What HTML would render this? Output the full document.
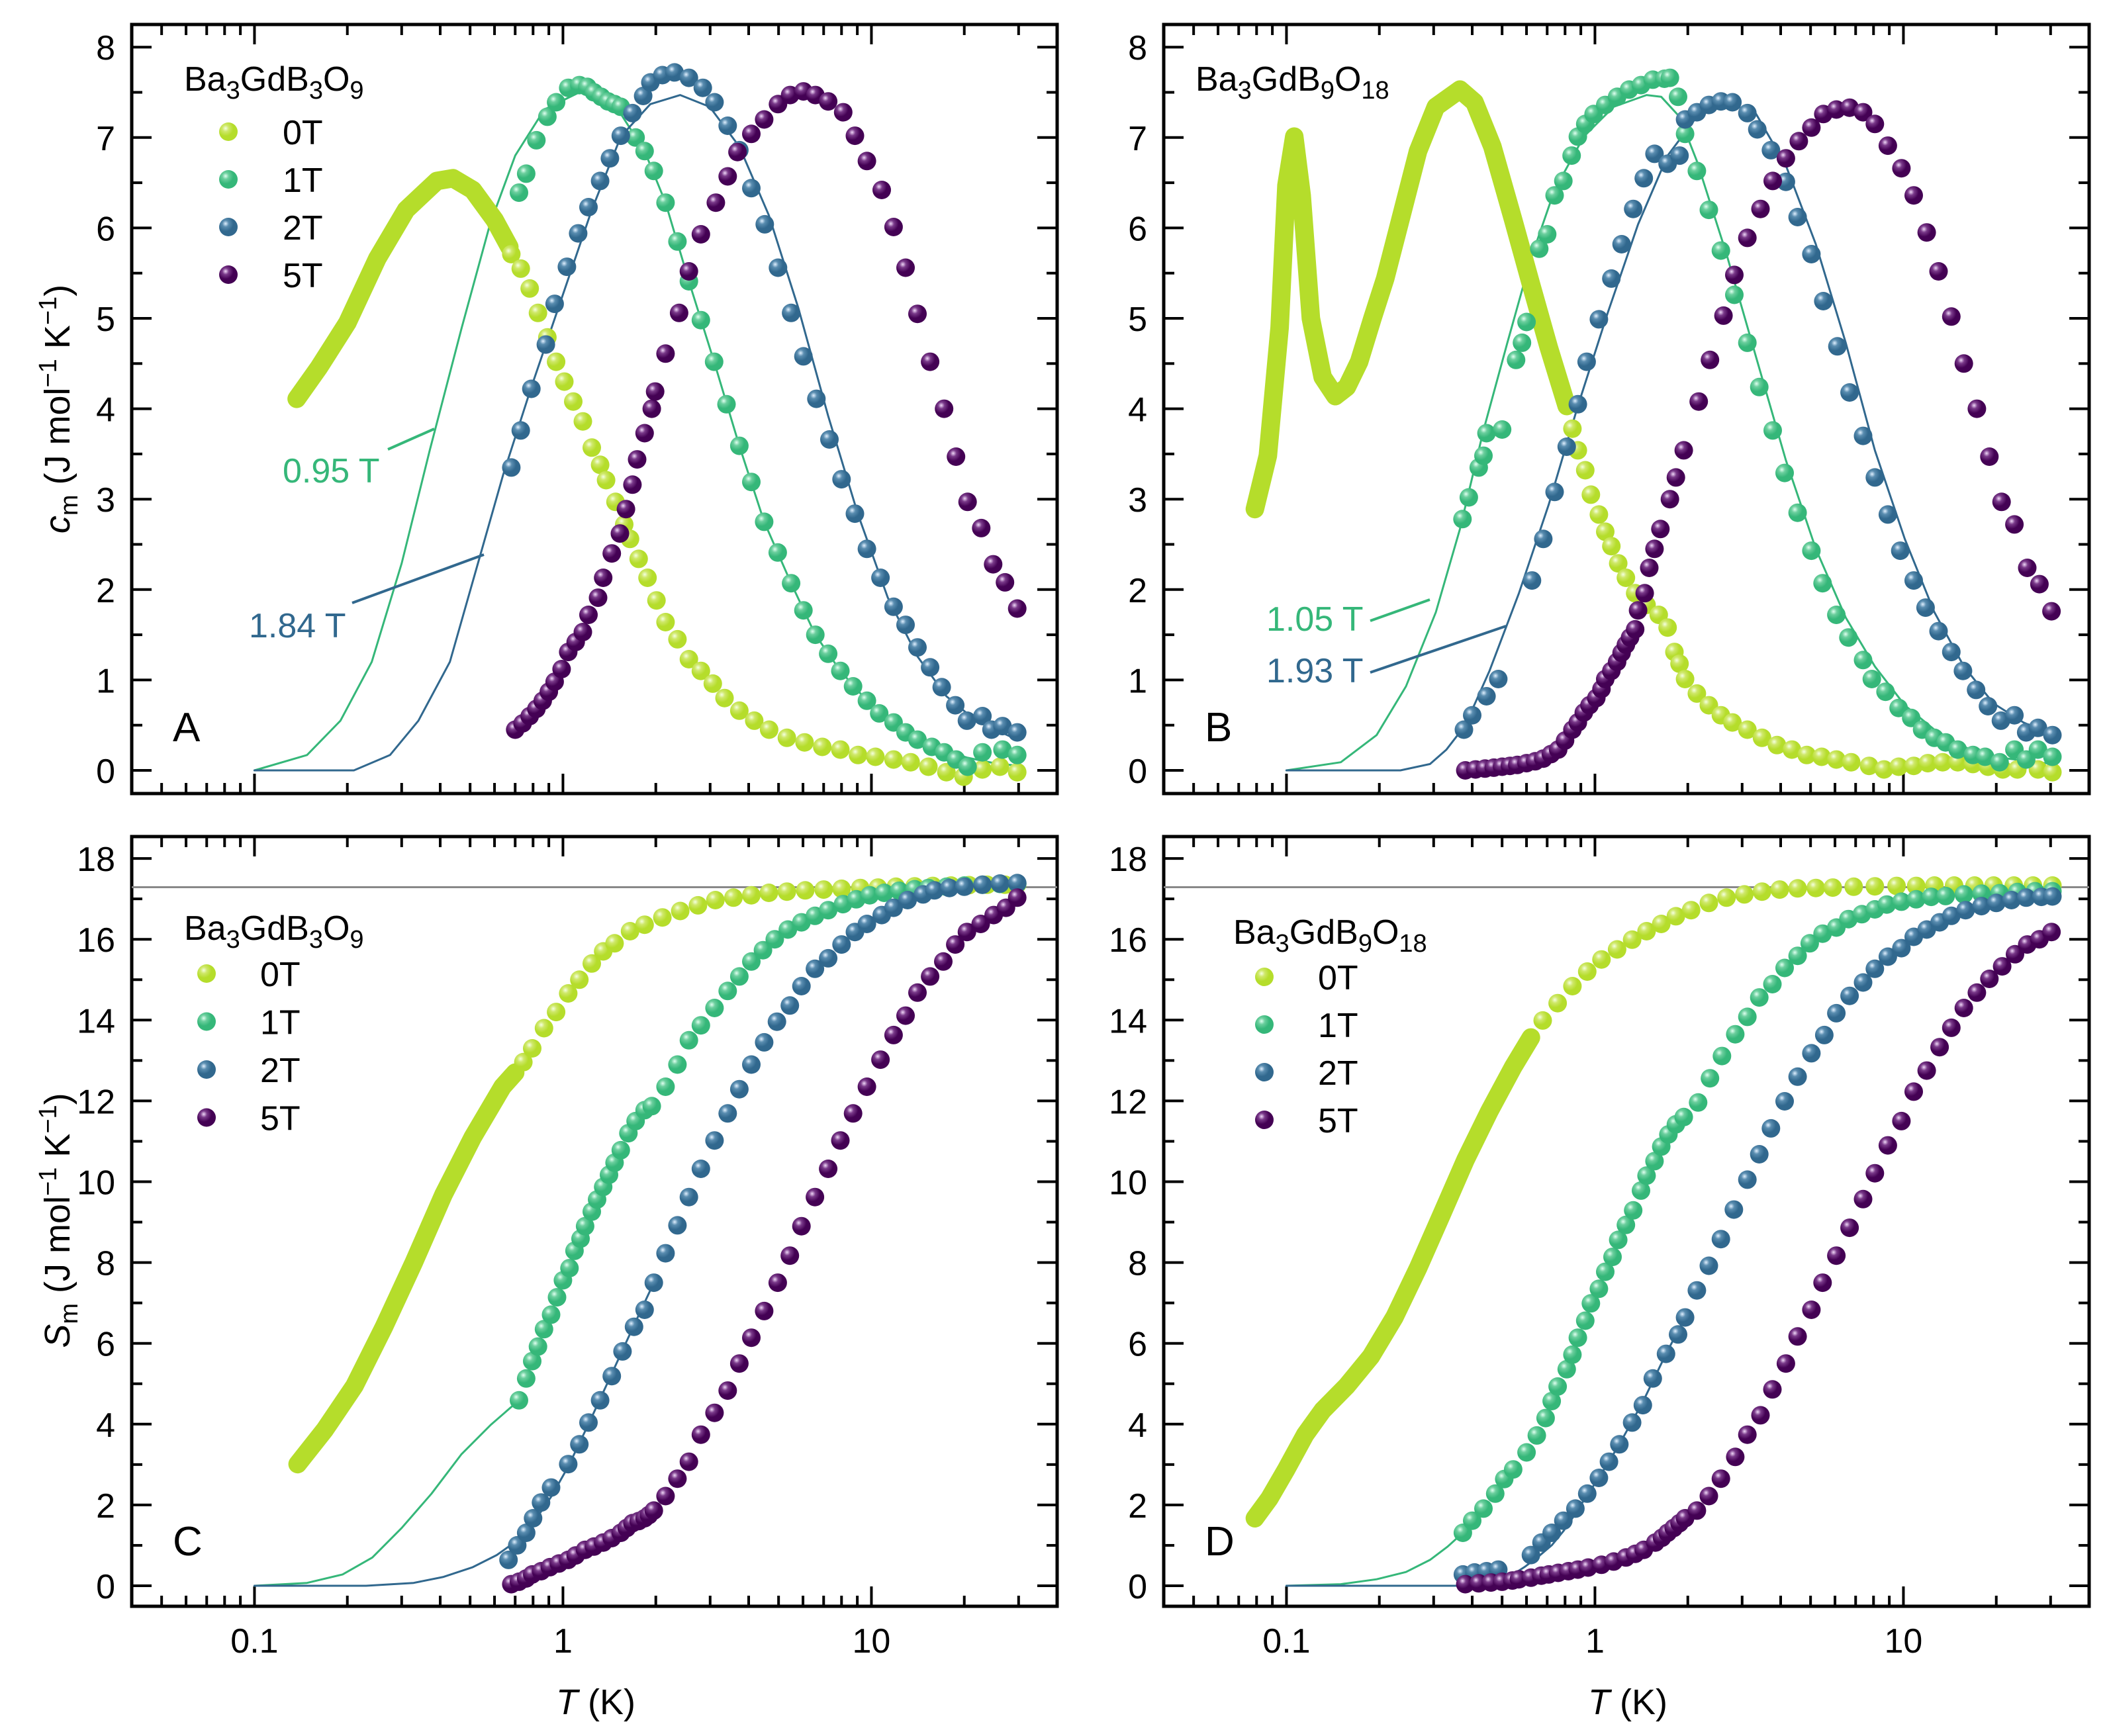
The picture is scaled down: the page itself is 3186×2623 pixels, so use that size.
<!DOCTYPE html>
<html><head><meta charset="utf-8"><style>
html,body{margin:0;padding:0;background:#fff;}
svg{display:block;font-family:"Liberation Sans",Arial,sans-serif;}
</style></head><body>
<svg id="fig" width="3186" height="2623" viewBox="0 0 3186 2623" xmlns="http://www.w3.org/2000/svg">
<defs>
<radialGradient id="g0" cx="0.35" cy="0.32" r="0.7"><stop offset="0" stop-color="#f4ffe0"/><stop offset="0.25" stop-color="#cfe86a"/><stop offset="0.6" stop-color="#b5dd2b"/></radialGradient>
<radialGradient id="g1" cx="0.35" cy="0.32" r="0.7"><stop offset="0" stop-color="#e0fff0"/><stop offset="0.25" stop-color="#6ccf9e"/><stop offset="0.6" stop-color="#35b779"/></radialGradient>
<radialGradient id="g2" cx="0.35" cy="0.32" r="0.7"><stop offset="0" stop-color="#e0f0ff"/><stop offset="0.25" stop-color="#5a8db0"/><stop offset="0.6" stop-color="#31688e"/></radialGradient>
<radialGradient id="g5" cx="0.35" cy="0.32" r="0.7"><stop offset="0" stop-color="#f0d8f8"/><stop offset="0.25" stop-color="#7a3a8a"/><stop offset="0.6" stop-color="#440154"/></radialGradient>
</defs>
</svg>
<script>
// ---- Panel A (c_m, Ba3GdB3O9) ----
const A0dT=[0.137,0.162,0.2,0.25,0.31,0.39,0.44,0.51,0.6,0.67];
const A0dV=[4.11,4.46,4.95,5.66,6.2,6.52,6.55,6.42,6.09,5.79];
const A0T=[0.68,0.73,0.78,0.83,0.89,0.95,1.01,1.08,1.16,1.24,1.32,1.38,1.48,1.58,1.65,1.76,1.88,2.01,2.15,2.35,2.56,2.8,3.06,3.34,3.73,4.17,4.66,5.32,6.07,6.93,7.93,9.05,10.3,11.8,13.4,15.3,17.5,19.9,22.9,26.1,29.7];
const A0V=[5.71,5.55,5.33,5.06,4.79,4.52,4.3,4.08,3.86,3.57,3.38,3.21,2.97,2.72,2.56,2.34,2.13,1.88,1.64,1.45,1.23,1.1,0.96,0.8,0.66,0.55,0.45,0.36,0.31,0.26,0.23,0.17,0.15,0.12,0.09,0.04,-0.02,-0.07,0.01,0.04,-0.02];
const A1T=[0.72,0.76,0.82,0.89,0.95,1.04,1.13,1.2,1.26,1.33,1.4,1.47,1.54,1.72,1.84,1.97,2.15,2.35,2.56,2.8,3.09,3.39,3.73,4.08,4.49,4.97,5.49,6.02,6.58,7.24,7.93,8.72,9.67,10.6,11.8,12.9,14.1,15.7,17.2,18.8,20.5,22.9,26.6,29.7];
const A1V=[6.39,6.6,6.97,7.23,7.39,7.55,7.58,7.56,7.5,7.45,7.4,7.37,7.34,7.0,6.85,6.63,6.28,5.85,5.41,4.98,4.52,4.05,3.59,3.19,2.75,2.41,2.07,1.77,1.5,1.29,1.1,0.93,0.77,0.63,0.53,0.42,0.34,0.26,0.2,0.12,0.04,0.2,0.23,0.17];
const A1fT=[0.1,0.148,0.19,0.24,0.3,0.37,0.47,0.58,0.7,0.87,1.13,1.47,1.84,2.15,2.56,3.09,3.73,4.49,5.49,6.58,7.93,9.67,11.8,14.1,17.2,20.5,25,30];
const A1fV=[0,0.17,0.55,1.2,2.29,3.54,4.9,6.04,6.8,7.31,7.5,7.37,6.85,6.28,5.41,4.52,3.59,2.75,2.07,1.5,1.1,0.77,0.53,0.36,0.22,0.14,0.08,0.05];
const A2T=[0.68,0.73,0.79,0.88,0.94,1.03,1.12,1.21,1.32,1.42,1.54,1.68,1.82,1.92,2.1,2.3,2.56,2.84,3.1,3.42,3.73,4.08,4.51,4.98,5.49,6.02,6.63,7.31,8.0,8.84,9.67,10.7,11.8,12.9,14.1,15.5,16.9,18.7,20.4,22.9,24.5,26.6,29.7];
const A2V=[3.35,3.76,4.22,4.71,5.16,5.57,5.94,6.23,6.52,6.77,7.02,7.27,7.46,7.61,7.69,7.72,7.66,7.55,7.39,7.13,6.86,6.44,6.04,5.56,5.06,4.58,4.11,3.66,3.22,2.84,2.45,2.13,1.81,1.61,1.36,1.14,0.92,0.72,0.55,0.6,0.45,0.49,0.42];
const A2fT=[0.1,0.21,0.275,0.34,0.43,0.53,0.64,0.79,0.99,1.24,1.54,1.92,2.4,2.99,3.73,4.65,5.8,7.24,9.05,11.3,14.1,17.5,21.8,29.7];
const A2fV=[0,0,0.17,0.55,1.2,2.29,3.27,4.24,5.22,6.2,7.01,7.37,7.47,7.34,6.9,6.14,5.11,3.92,2.83,1.91,1.26,0.82,0.55,0.34];
const A5T=[0.7,0.74,0.78,0.82,0.86,0.9,0.94,0.99,1.04,1.1,1.16,1.21,1.3,1.35,1.44,1.53,1.6,1.68,1.74,1.84,1.94,1.99,2.15,2.38,2.56,2.8,3.13,3.42,3.68,4.08,4.49,4.98,5.45,6.02,6.58,7.24,8.1,8.84,9.67,10.8,11.8,12.9,14.1,15.5,17.2,18.8,20.5,22.7,24.8,27.1,29.7];
const A5V=[0.45,0.52,0.6,0.68,0.77,0.87,0.98,1.12,1.31,1.42,1.53,1.72,1.91,2.13,2.4,2.62,2.89,3.16,3.44,3.73,4.0,4.19,4.61,5.06,5.52,5.93,6.28,6.57,6.84,7.04,7.2,7.37,7.47,7.51,7.47,7.4,7.28,7.02,6.74,6.42,6.01,5.56,5.05,4.52,4.0,3.47,2.97,2.68,2.28,2.08,1.79];
// ---- Panel B (c_m, Ba3GdB9O18) ----
const B0dT=[0.079,0.087,0.095,0.1,0.106,0.112,0.12,0.131,0.144,0.157,0.172,0.19,0.209,0.234,0.267,0.305,0.365,0.407,0.465,0.543,0.62,0.708,0.81];
const B0dV=[2.89,3.48,4.9,6.47,7.01,6.36,5.0,4.35,4.14,4.24,4.52,5.0,5.44,6.09,6.85,7.34,7.53,7.39,6.9,6.09,5.38,4.68,4.03];
const B0T=[0.845,0.88,0.93,0.97,1.03,1.08,1.13,1.19,1.26,1.35,1.47,1.61,1.72,1.81,1.88,1.96,2.14,2.34,2.56,2.79,3.12,3.48,3.89,4.35,4.86,5.43,6.06,6.77,7.74,8.65,9.65,10.8,12.0,13.4,15.0,16.8,18.8,21.0,23.4,27.3,30.4];
const B0V=[3.78,3.54,3.32,3.05,2.83,2.64,2.48,2.29,2.13,1.96,1.83,1.72,1.58,1.31,1.18,1.01,0.85,0.72,0.61,0.53,0.45,0.36,0.28,0.23,0.17,0.15,0.12,0.09,0.05,0.01,0.04,0.05,0.08,0.09,0.09,0.07,0.04,0.01,0.01,0.01,-0.02];
const B1T=[0.372,0.39,0.42,0.435,0.445,0.5,0.555,0.58,0.6,0.66,0.7,0.74,0.79,0.84,0.88,0.93,0.99,1.08,1.18,1.29,1.41,1.54,1.68,1.75,1.86,1.96,2.14,2.34,2.56,2.83,3.12,3.41,3.77,4.12,4.54,5.03,5.47,6.06,6.63,7.4,7.9,8.75,9.65,10.6,11.5,12.6,13.7,15.0,16.8,18.4,20.5,22.9,25.0,27.3,30.4];
const B1V=[2.78,3.02,3.35,3.48,3.73,3.77,4.54,4.73,4.96,5.77,5.93,6.36,6.52,6.8,7.01,7.15,7.26,7.36,7.45,7.53,7.58,7.64,7.65,7.66,7.45,7.04,6.63,6.2,5.75,5.26,4.73,4.24,3.76,3.29,2.85,2.43,2.07,1.72,1.47,1.22,1.01,0.87,0.69,0.58,0.45,0.36,0.31,0.23,0.17,0.15,0.09,0.23,0.12,0.23,0.15];
const B1fT=[0.1,0.15,0.196,0.244,0.305,0.365,0.435,0.52,0.62,0.74,0.92,1.15,1.47,1.64,1.88,2.14,2.67,3.33,4.16,5.2,6.5,8.08,10.1,12.6,15.7,19.6,30.4];
const B1fV=[0,0.09,0.39,0.93,1.75,2.67,3.76,4.73,5.66,6.42,7.01,7.34,7.47,7.45,7.23,6.74,5.71,4.57,3.43,2.45,1.69,1.15,0.72,0.45,0.26,0.15,0.07];
const B2T=[0.376,0.4,0.445,0.486,0.625,0.68,0.74,0.81,0.88,0.94,1.03,1.13,1.22,1.33,1.44,1.56,1.72,1.88,1.96,2.14,2.34,2.56,2.79,3.12,3.36,3.72,4.16,4.54,5.03,5.5,6.11,6.69,7.4,8.08,8.9,9.77,10.8,11.8,13.0,14.3,15.6,17.2,18.8,20.7,22.9,25.0,27.3,30.4];
const B2V=[0.45,0.61,0.82,1.01,2.1,2.56,3.08,3.58,4.05,4.52,4.99,5.44,5.82,6.21,6.55,6.82,6.71,6.8,7.2,7.28,7.36,7.4,7.39,7.27,7.09,6.86,6.51,6.12,5.71,5.19,4.69,4.18,3.7,3.24,2.83,2.43,2.1,1.8,1.54,1.31,1.1,0.89,0.71,0.55,0.61,0.42,0.47,0.39];
const B2fT=[0.1,0.234,0.292,0.33,0.38,0.455,0.567,0.708,0.88,1.1,1.38,1.72,2.14,2.67,3.33,4.16,5.2,6.5,8.08,10.1,12.6,15.7,19.6,24.5,30.4];
const B2fV=[0,0,0.07,0.23,0.5,1.1,1.96,2.94,4.03,5.06,6.04,6.8,7.23,7.39,7.26,6.69,5.82,4.73,3.54,2.56,1.75,1.15,0.74,0.53,0.39];
const B5T=[0.38,0.41,0.44,0.47,0.5,0.53,0.56,0.6,0.64,0.68,0.72,0.76,0.8,0.845,0.88,0.92,0.96,1.01,1.05,1.08,1.13,1.18,1.22,1.26,1.3,1.35,1.38,1.45,1.5,1.56,1.63,1.75,1.83,1.94,2.17,2.36,2.61,2.83,3.12,3.44,3.77,4.16,4.58,5.03,5.5,6.06,6.69,7.4,8.08,8.9,9.85,10.8,11.9,13.0,14.3,15.7,17.3,19.0,20.8,22.9,25.2,27.6,30.2];
const B5V=[0,0.01,0.02,0.03,0.04,0.05,0.06,0.08,0.1,0.13,0.18,0.23,0.33,0.45,0.53,0.64,0.72,0.8,0.9,1.01,1.1,1.2,1.3,1.39,1.47,1.56,1.77,1.96,2.24,2.45,2.67,3.0,3.24,3.54,4.08,4.54,5.03,5.48,5.89,6.21,6.52,6.77,6.96,7.11,7.26,7.31,7.33,7.28,7.15,6.91,6.66,6.36,5.95,5.52,5.02,4.5,4.0,3.47,2.97,2.72,2.24,2.06,1.76];
// ---- Panel C (S_m, Ba3GdB3O9) ----
const C0dT=[0.138,0.169,0.211,0.263,0.328,0.41,0.51,0.637,0.7];
const C0dV=[3.01,3.86,4.95,6.41,7.99,9.68,11.1,12.35,12.7];
const C0T=[0.744,0.795,0.868,0.95,1.04,1.13,1.24,1.35,1.47,1.65,1.84,2.1,2.4,2.74,3.12,3.57,4.08,4.65,5.32,6.1,7.0,8.0,9.2,10.5,12.0,13.8,15.8,18.1,20.7,23.7,27.1,29.7];
const C0V=[12.96,13.3,13.8,14.2,14.66,15.0,15.4,15.7,15.9,16.2,16.36,16.54,16.7,16.84,16.97,17.03,17.09,17.15,17.18,17.21,17.23,17.25,17.27,17.28,17.3,17.31,17.32,17.33,17.34,17.35,17.35,17.36];
const C1T=[0.72,0.76,0.795,0.83,0.868,0.915,0.957,1.0,1.05,1.09,1.14,1.18,1.24,1.29,1.35,1.41,1.47,1.54,1.63,1.72,1.84,1.94,2.15,2.35,2.56,2.8,3.1,3.42,3.73,4.08,4.45,4.86,5.36,5.93,6.56,7.24,8.09,8.93,9.87,11.0,12.3,13.8,15.3,17.5,20.0,22.9,26.1,29.7];
const C1V=[4.59,5.13,5.56,5.92,6.35,6.71,7.14,7.56,7.86,8.29,8.59,8.9,9.26,9.56,9.87,10.17,10.47,10.78,11.2,11.5,11.77,11.87,12.35,12.9,13.5,13.87,14.3,14.72,15.08,15.45,15.73,16.0,16.24,16.42,16.58,16.72,16.87,16.99,17.09,17.15,17.2,17.24,17.27,17.3,17.33,17.35,17.37,17.38];
const C1fT=[0.1,0.148,0.193,0.241,0.3,0.375,0.468,0.583,0.72];
const C1fV=[0,0.07,0.28,0.7,1.43,2.28,3.25,3.98,4.59];
const C2T=[0.666,0.711,0.76,0.8,0.849,0.915,1.04,1.13,1.21,1.32,1.44,1.56,1.7,1.84,1.97,2.15,2.35,2.56,2.8,3.1,3.42,3.73,4.08,4.49,4.94,5.44,5.93,6.56,7.24,8.0,8.84,9.67,10.8,11.8,13.1,14.7,16.0,17.9,20.0,22.9,26.1,29.7];
const C2V=[0.64,1.0,1.31,1.67,2.06,2.43,3.01,3.5,4.04,4.59,5.19,5.8,6.41,6.83,7.5,8.23,8.92,9.62,10.32,11.02,11.69,12.29,12.9,13.45,13.96,14.36,14.84,15.27,15.53,15.87,16.18,16.38,16.6,16.78,16.97,17.11,17.21,17.27,17.3,17.35,17.38,17.39];
const C2fT=[0.1,0.23,0.328,0.41,0.51,0.61,0.696,0.8,0.915,1.04,1.21,1.44,1.7,1.97];
const C2fV=[0,0,0.07,0.22,0.46,0.76,1.07,1.55,2.2,2.95,4.0,5.25,6.45,7.5];
const C5T=[0.68,0.72,0.76,0.795,0.85,0.907,0.97,1.04,1.1,1.18,1.26,1.35,1.44,1.54,1.61,1.68,1.76,1.84,1.9,1.97,2.15,2.35,2.56,2.8,3.1,3.42,3.73,4.08,4.49,4.97,5.44,5.93,6.56,7.24,7.93,8.72,9.67,10.7,11.8,12.9,14.1,15.5,17.1,18.7,20.4,22.6,24.9,27.3,29.7];
const C5V=[0.04,0.1,0.18,0.28,0.36,0.46,0.55,0.64,0.75,0.89,0.97,1.07,1.18,1.31,1.43,1.55,1.6,1.67,1.75,1.86,2.22,2.65,3.07,3.74,4.28,4.83,5.5,6.14,6.8,7.5,8.17,8.9,9.62,10.32,11.02,11.69,12.35,13.02,13.63,14.11,14.68,15.08,15.45,15.87,16.18,16.38,16.6,16.78,17.03];
// ---- Panel D (S_m, Ba3GdB9O18) ----
const D0dT=[0.079,0.088,0.1,0.115,0.131,0.157,0.188,0.224,0.267,0.319,0.38,0.455,0.543,0.62];
const D0dV=[1.67,2.16,2.89,3.74,4.34,4.95,5.68,6.65,7.86,9.2,10.53,11.75,12.84,13.57];
const D0T=[0.677,0.757,0.845,0.944,1.05,1.18,1.32,1.47,1.64,1.83,2.05,2.34,2.67,3.05,3.48,3.97,4.54,5.2,5.9,6.9,8.08,9.5,11.0,12.6,14.6,17.0,19.6,22.8,26.3,30.4];
const D0V=[13.99,14.42,14.84,15.2,15.5,15.75,15.99,16.2,16.38,16.57,16.72,16.9,17.03,17.11,17.18,17.23,17.26,17.27,17.28,17.3,17.31,17.32,17.32,17.33,17.33,17.33,17.33,17.33,17.33,17.33];
const D1T=[0.373,0.4,0.435,0.475,0.508,0.543,0.6,0.648,0.692,0.724,0.757,0.81,0.845,0.88,0.93,0.97,1.03,1.08,1.14,1.19,1.26,1.33,1.41,1.47,1.56,1.64,1.73,1.83,1.94,2.16,2.36,2.58,2.85,3.12,3.41,3.76,4.12,4.54,4.97,5.47,6.06,6.63,7.33,8.08,8.83,9.85,11.0,12.3,13.7,15.7,17.9,20.5,23.4,26.7,30.4];
const D1V=[1.31,1.61,1.91,2.28,2.64,2.88,3.3,3.72,4.15,4.57,4.93,5.36,5.72,6.14,6.56,6.99,7.35,7.77,8.14,8.56,8.93,9.29,9.78,10.15,10.51,10.87,11.17,11.42,11.6,11.96,12.56,13.11,13.65,14.08,14.56,14.89,15.29,15.59,15.9,16.14,16.29,16.5,16.62,16.74,16.86,16.93,16.99,17.05,17.07,17.11,17.13,17.14,17.17,17.19,17.19];
const D1fT=[0.1,0.15,0.196,0.244,0.292,0.333,0.373];
const D1fV=[0,0.04,0.16,0.34,0.64,0.97,1.31];
const D2T=[0.373,0.407,0.445,0.486,0.62,0.671,0.724,0.79,0.864,0.944,1.03,1.11,1.2,1.32,1.43,1.54,1.7,1.86,1.96,2.14,2.34,2.56,2.82,3.12,3.41,3.72,4.12,4.54,5.03,5.54,6.06,6.69,7.4,8.08,8.9,9.85,10.8,11.9,13.1,14.3,15.9,17.9,20.0,22.4,25.0,28.0,30.4];
const D2V=[0.28,0.33,0.36,0.4,0.76,1.07,1.31,1.61,1.91,2.28,2.67,3.07,3.5,4.04,4.47,5.13,5.74,6.22,6.64,7.31,7.92,8.58,9.31,10.05,10.68,11.32,11.99,12.6,13.18,13.63,14.17,14.6,14.93,15.27,15.57,15.78,16.06,16.24,16.42,16.58,16.72,16.82,16.9,16.97,17.03,17.05,17.06];
const D2fT=[0.1,0.365,0.435,0.52,0.59,0.65,0.724,0.79,0.864,0.944,1.03,1.2,1.43,1.7,1.96];
const D2fV=[0,0,0.04,0.19,0.46,0.7,1.0,1.35,1.78,2.25,2.67,3.5,4.55,5.74,6.64];
const D5T=[0.38,0.42,0.46,0.5,0.54,0.567,0.62,0.67,0.708,0.76,0.82,0.88,0.95,1.05,1.15,1.26,1.35,1.44,1.57,1.65,1.72,1.8,1.88,1.96,2.14,2.34,2.56,2.85,3.12,3.44,3.76,4.16,4.54,5.03,5.47,6.06,6.69,7.4,8.08,8.9,9.85,10.8,11.9,13.1,14.3,15.7,17.3,19.0,20.9,23.0,25.2,27.6,30.2];
const D5V=[0.04,0.06,0.08,0.1,0.13,0.16,0.2,0.25,0.28,0.32,0.36,0.4,0.45,0.52,0.6,0.7,0.79,0.89,1.07,1.19,1.31,1.43,1.55,1.67,1.86,2.22,2.65,3.19,3.74,4.22,4.86,5.5,6.17,6.83,7.5,8.17,8.86,9.57,10.21,10.9,11.5,12.23,12.75,13.33,13.81,14.3,14.68,15.02,15.33,15.63,15.87,16.0,16.18];

const NS='http://www.w3.org/2000/svg';
const svg=document.getElementById('fig');
function el(tag,attrs,parent){const e=document.createElementNS(NS,tag);for(const k in attrs)e.setAttribute(k,attrs[k]);(parent||svg).appendChild(e);return e;}
const COL={0:'#b5dd2b',1:'#35b779',2:'#31688e',5:'#440154'};
const R=14;
let ts_prev=false;

function makePanel(p){
  const g=el('g',{});
  
  
  const L=p.L,Rr=p.L+1398,T=p.top,B=p.bot;
  const lx0=Math.log10(0.04);
  const xs=v=>L+(Math.log10(v)-lx0)/3*1398;
  const ys=v=>p.y0-v*p.ypu;
  const fr=el('rect',{x:L,y:T,width:Rr-L,height:B-T,fill:'none',stroke:'#000','stroke-width':5},g);
  
  
  if(p.ref!==undefined){
    const rl=el('line',{x1:L,x2:Rr,y1:ys(p.ref),y2:ys(p.ref),stroke:'#888','stroke-width':3},g);
    
    
  }
  for(let d=-2;d<=1;d++){for(let m=1;m<=9;m++){const v=m*Math.pow(10,d);if(v<0.04||v>40)continue;
    const x=xs(v);const len=m===1?30:16;
    el('line',{x1:x,x2:x,y1:B,y2:B-len,stroke:'#000','stroke-width':4},g);
    el('line',{x1:x,x2:x,y1:T,y2:T+len,stroke:'#000','stroke-width':4},g);
    if(m===1&&p.xlabels){const t=el('text',{x:x,y:B+70,'font-size':52,'text-anchor':'middle'},g);t.textContent=(v<1?'0.1':String(v));
      
      }
  }}
  for(let v=0;v<=p.ymax+1e-9;v+=p.minor){const y=ys(v);const major=Math.abs(v/p.major-Math.round(v/p.major))<1e-6;const len=major?30:16;
    el('line',{x1:L,x2:L+len,y1:y,y2:y,stroke:'#000','stroke-width':4},g);
    el('line',{x1:Rr,x2:Rr-len,y1:y,y2:y,stroke:'#000','stroke-width':4},g);
    if(major){const t=el('text',{x:L-25,y:y+19,'font-size':52,'text-anchor':'end'},g);t.textContent=String(Math.round(v));
      
      }
  }
  const clip=el('clipPath',{id:'clip'+p.letter},g);el('rect',{x:L,y:T,width:Rr-L,height:B-T},clip);
  const pg=el('g',{'clip-path':'url(#clip'+p.letter+')'},g);
  function line(xa,ya,col,w,name){const pts=xa.map((t,i)=>xs(t).toFixed(1)+','+ys(ya[i]).toFixed(1)).join(' ');
    const pl=el('polyline',{points:pts,fill:'none',stroke:col,'stroke-width':w,'stroke-linejoin':'round','stroke-linecap':'round'},pg);
    
    }
  function marks(xa,ya,k,name){const gg=el('g',{},pg);
    
    
    xa.forEach((t,i)=>{const c=el('circle',{cx:xs(t).toFixed(1),cy:ys(ya[i]).toFixed(1),r:R,fill:'url(#g'+k+')'},gg);
      
      });}
  line(p.s1f[0],p.s1f[1],COL[1],3,'fit-curve-1T');
  line(p.s2f[0],p.s2f[1],COL[2],3,'fit-curve-2T');
  line(p.s0d[0],p.s0d[1],COL[0],28,'series-0T-dense');
  marks(p.s0[0],p.s0[1],0,'series-0T');
  marks(p.s1[0],p.s1[1],1,'series-1T');
  marks(p.s2[0],p.s2[1],2,'series-2T');
  marks(p.s5[0],p.s5[1],5,'series-5T');
  const lt=el('text',{x:L+62,y:p.letterY,'font-size':62},g);lt.textContent=p.letter;
  
  
  const tt=el('text',{x:p.leg[0],y:p.leg[1],'font-size':52},g);
  
  
  ts_prev=false;
  p.title.forEach(([s,sub])=>{const ts=el('tspan',sub?{'font-size':38,dy:12}:{dy:sub===false&&ts_prev?-12:0},tt);ts.textContent=s;ts_prev=sub;});
  if(p.entries){['0','1','2','5'].forEach((k,i)=>{const y=p.entries.y0+i*p.entries.dy;
    const c=el('circle',{cx:p.entries.mx,cy:y,r:R,fill:'url(#g'+k+')'},g);
    
    
    const t=el('text',{x:p.entries.tx,y:y+19,'font-size':52},g);t.textContent=k+'T';
    
    });}
  (p.ann||[]).forEach(a=>{const t=el('text',{x:a.x,y:a.y,'font-size':52,fill:a.col},g);t.textContent=a.text;
    
    
    const l=el('line',{x1:a.l[0],y1:a.l[1],x2:a.l[2],y2:a.l[3],stroke:a.col,'stroke-width':4},g);
    
    });
}
const t1=[['Ba'],['3',true],['GdB',false],['3',true],['O',false],['9',true]];
const t2=[['Ba'],['3',true],['GdB',false],['9',true],['O',false],['18',true]];
makePanel({name:'panel-a',letter:'A',L:199,top:37,bot:1199,y0:1164,ypu:136.6,ymax:8.2,major:1,minor:0.5,letterY:1120,
  leg:[278,137],title:t1,entries:{mx:345,tx:427,y0:199,dy:72},
  s0d:[A0dT,A0dV],s0:[A0T,A0V],s1:[A1T,A1V],s1f:[A1fT,A1fV],s2:[A2T,A2V],s2f:[A2fT,A2fV],s5:[A5T,A5V],
  ann:[{text:'0.95 T',x:427,y:729,col:COL[1],l:[586,679,656,648]},{text:'1.84 T',x:376,y:963,col:COL[2],l:[532,911,731,838]}]});
makePanel({name:'panel-b',letter:'B',L:1758,top:37,bot:1199,y0:1164,ypu:136.6,ymax:8.2,major:1,minor:0.5,letterY:1120,
  leg:[1806,137],title:t2,
  s0d:[B0dT,B0dV],s0:[B0T,B0V],s1:[B1T,B1V],s1f:[B1fT,B1fV],s2:[B2T,B2V],s2f:[B2fT,B2fV],s5:[B5T,B5V],
  ann:[{text:'1.05 T',x:1913,y:953,col:COL[1],l:[2070,938,2160,906]},{text:'1.93 T',x:1913,y:1031,col:COL[2],l:[2070,1016,2275,946]}]});
makePanel({name:'panel-c',letter:'C',L:199,top:1264,bot:2427,y0:2396,ypu:61.05,ymax:18.2,major:2,minor:1,letterY:2350,ref:17.29,xlabels:true,
  leg:[278,1420],title:t1,entries:{mx:312,tx:393,y0:1471,dy:72.5},
  s0d:[C0dT,C0dV],s0:[C0T,C0V],s1:[C1T,C1V],s1f:[C1fT,C1fV],s2:[C2T,C2V],s2f:[C2fT,C2fV],s5:[C5T,C5V]});
makePanel({name:'panel-d',letter:'D',L:1758,top:1264,bot:2427,y0:2396,ypu:61.05,ymax:18.2,major:2,minor:1,letterY:2350,ref:17.29,xlabels:true,
  leg:[1863,1426],title:t2,entries:{mx:1910,tx:1991,y0:1476,dy:72},
  s0d:[D0dT,D0dV],s0:[D0T,D0V],s1:[D1T,D1V],s1f:[D1fT,D1fV],s2:[D2T,D2V],s2f:[D2fT,D2fV],s5:[D5T,D5V]});

function ytitle(cx,cy,sym,name){const t=el('text',{x:0,y:0,'font-size':54,'text-anchor':'middle',transform:'translate('+cx+','+cy+') rotate(-90)'});
  
  
  t.innerHTML='<tspan font-style="italic">'+sym+'</tspan><tspan font-size="38" dy="12">m</tspan><tspan dy="-12"> (J mol</tspan><tspan font-size="38" dy="-20">−1</tspan><tspan dy="20"> K</tspan><tspan font-size="38" dy="-20">−1</tspan><tspan dy="20">)</tspan>';}
ytitle(105,618,'c','y-axis-title-cm');
ytitle(105,1844,'S','y-axis-title-sm');
function xtitle(cx,name){const t=el('text',{x:cx,y:2590,'font-size':54,'text-anchor':'middle'});
  
  
  t.innerHTML='<tspan font-style="italic">T</tspan> (K)';}
xtitle(900,'x-axis-title-left');
xtitle(2459,'x-axis-title-right');
</script>
</body></html>
